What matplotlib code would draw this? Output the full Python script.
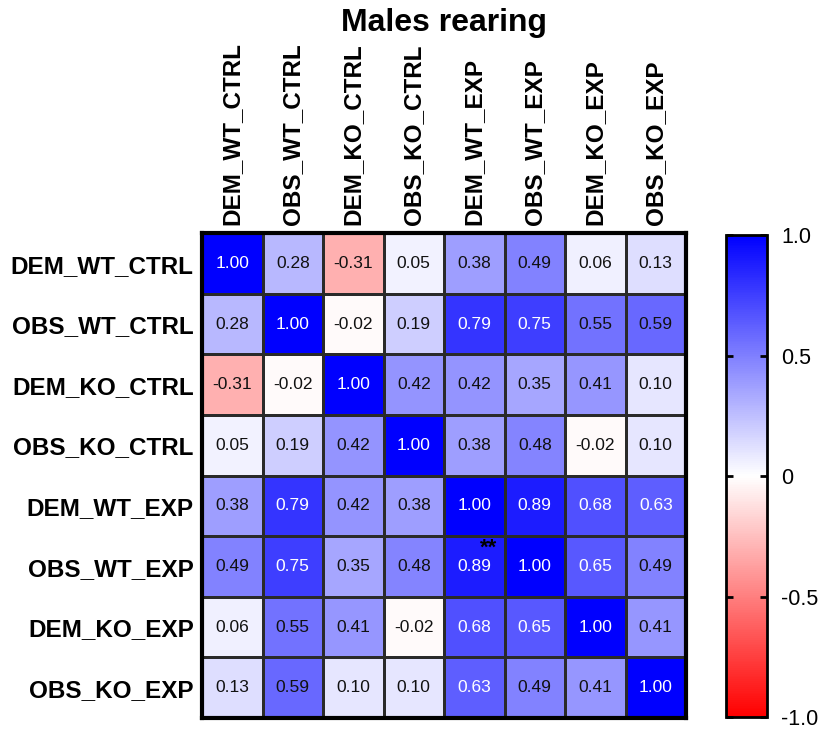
import numpy as np
import matplotlib
matplotlib.use('Agg')
import matplotlib.pyplot as plt
from matplotlib.colors import LinearSegmentedColormap

plt.rcParams['font.family'] = ['Liberation Sans', 'DejaVu Sans']

labels = ['DEM_WT_CTRL', 'OBS_WT_CTRL', 'DEM_KO_CTRL', 'OBS_KO_CTRL',
          'DEM_WT_EXP', 'OBS_WT_EXP', 'DEM_KO_EXP', 'OBS_KO_EXP']

corr = np.array([
    [1.00, 0.28, -0.31, 0.05, 0.38, 0.49, 0.06, 0.13],
    [0.28, 1.00, -0.02, 0.19, 0.79, 0.75, 0.55, 0.59],
    [-0.31, -0.02, 1.00, 0.42, 0.42, 0.35, 0.41, 0.10],
    [0.05, 0.19, 0.42, 1.00, 0.38, 0.48, -0.02, 0.10],
    [0.38, 0.79, 0.42, 0.38, 1.00, 0.89, 0.68, 0.63],
    [0.49, 0.75, 0.35, 0.48, 0.89, 1.00, 0.65, 0.49],
    [0.06, 0.55, 0.41, -0.02, 0.68, 0.65, 1.00, 0.41],
    [0.13, 0.59, 0.10, 0.10, 0.63, 0.49, 0.41, 1.00],
])

# significance marks: (row, col, text)
marks = [(5, 4, '**')]

cbar_ticks = [-1.0, -0.5, 0, 0.5, 1.0]
cbar_ticklabels = ['-1.0', '-0.5', '0', '0.5', '1.0']

cmap = LinearSegmentedColormap.from_list('rwb', ['#ff0000', '#ffffff', '#0000ff'])

fig = plt.figure(figsize=(8.28, 7.29), dpi=100)
ax = fig.add_axes([0.244, 0.015, 0.5845, 0.665])
cax = fig.add_axes([0.877, 0.0165, 0.0495, 0.661])

n = len(labels)
mesh = ax.pcolormesh(np.arange(n + 1), np.arange(n + 1), corr, cmap=cmap,
                     vmin=-1, vmax=1, edgecolors='#2a2a2a', linewidth=0.8)
ax.set_xlim(0, n)
ax.set_ylim(n, 0)

for i in range(n):
    for j in range(n):
        v = corr[i, j]
        col = 'white' if v >= 0.6 else '#111111'
        ax.text(j + 0.5, i + 0.5, f'{v:.2f}', ha='center', va='center',
                fontsize=12.5, color=col)

for r, c, t in marks:
    ax.text(c + 0.73, r + 0.2, t, ha='center', va='center', fontsize=16,
            fontweight='bold', color='black')

ax.xaxis.tick_top()
ax.set_xticks(np.arange(n) + 0.5)
ax.set_xticklabels(labels, rotation=90, fontsize=17.5, fontweight='bold')
ax.set_yticks(np.arange(n) + 0.5)
ax.set_yticklabels(labels, fontsize=17.5, fontweight='bold')
ax.tick_params(length=0, pad=6)
for s in ax.spines.values():
    s.set_linewidth(3)
    s.set_color('black')

fig.text(0.536, 0.968, 'Males rearing', ha='center', va='center',
         fontsize=23, fontweight='bold')

cb = fig.colorbar(mesh, cax=cax, ticks=cbar_ticks)
cb.set_ticklabels(cbar_ticklabels)
cb.outline.set_linewidth(2)
cax.tick_params(direction='in', length=5, width=2, labelsize=15.5, pad=10,
                left=True, right=True)

fig.savefig('out.png', dpi=100)
